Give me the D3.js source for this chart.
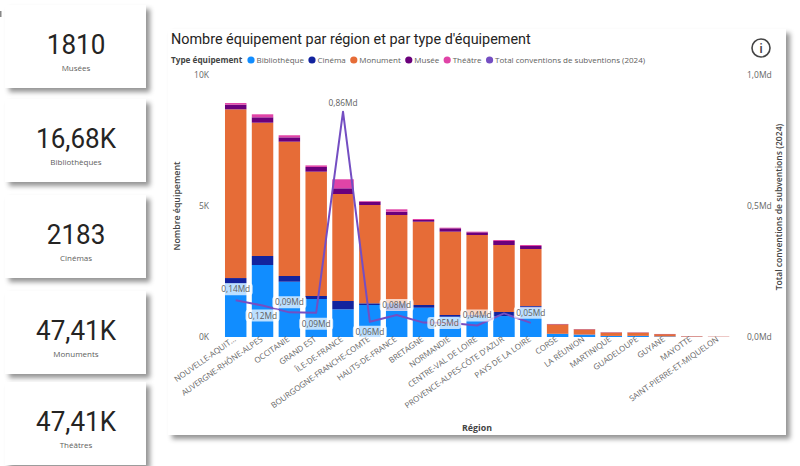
<!DOCTYPE html>
<html>
<head>
<meta charset="utf-8">
<script src="https://cdn.jsdelivr.net/npm/d3@7"></script>
<style>
html, body { margin: 0; padding: 0; background: #fff; overflow: hidden; }
svg { display: block; }
text { font-family: "Open Sans", sans-serif; }
.din { font-family: Roboto, sans-serif; }
.axis path, .axis line { display: none; }
.axis text { fill: #666; font-size: 8.5px; font-family: "Open Sans", sans-serif; }
</style>
</head>
<body>
<svg id="page" width="800" height="466"></svg>
<script>
var regions = ['NOUVELLE-AQUIT...', 'AUVERGNE-RHÔNE-ALPES', 'OCCITANIE', 'GRAND EST', 'ÎLE-DE-FRANCE',
    'BOURGOGNE-FRANCHE-COMTÉ', 'HAUTS-DE-FRANCE', 'BRETAGNE', 'NORMANDIE', 'CENTRE-VAL DE LOIRE',
    "PROVENCE-ALPES-CÔTE D'AZUR", 'PAYS DE LA LOIRE', 'CORSE', 'LA RÉUNION', 'MARTINIQUE',
    'GUADELOUPE', 'GUYANE', 'MAYOTTE', 'SAINT-PIERRE-ET-MIQUELON'];
var bibliotheque = [2050, 2748, 2110, 1450, 1057, 1221, 1000, 1118, 775, 780, 800, 1100, 115, 88, 38, 40, 20, 4, 1];
var cinema = [200, 344, 218, 115, 317, 65, 290, 103, 65, 70, 154, 83, 8, 7, 4, 4, 3, 1, 0];
var monument = [6440, 5088, 5127, 4745, 4084, 3752, 3366, 3179, 3180, 3043, 2557, 2176, 360, 196, 128, 123, 85, 20, 10];
var musee = [177, 205, 165, 180, 217, 126, 127, 66, 128, 103, 153, 114, 10, 8, 8, 7, 5, 3, 2];
var theatre = [63, 115, 80, 60, 345, 26, 91, 38, 24, 24, 38, 38, 5, 4, 4, 4, 3, 2, 1];
var conventions = [0.14, 0.12, 0.094, 0.093, 0.86, 0.058, 0.084, 0.055, 0.053, 0.044, 0.09, 0.054];
var lineLabels = ['0,14Md', '0,12Md', '0,09Md', '0,09Md', '0,86Md', '0,06Md', '0,08Md', null, '0,05Md', '0,04Md', null, '0,05Md'];
var yTicks = [0, 5000, 10000];
var yTickLabels = ['0K', '5K', '10K'];
var rightTicks = [0, 0.5, 1];
var rightTickLabels = ['0,0Md', '0,5Md', '1,0Md'];
var seriesNames = ['Bibliothèque', 'Cinéma', 'Monument', 'Musée', 'Théâtre'];
var lineName = 'Total conventions de subventions (2024)';
var kpiValues = ['1810', '16,68K', '2183', '47,41K', '47,41K'];
var kpiNames = ['Musées', 'Bibliothèques', 'Cinémas', 'Monuments', 'Théâtres'];

const COLORS = ['#118DFF', '#12239E', '#E66C37', '#6B007B', '#E044A7'];
const LINE_COLOR = '#744EC2';
const CARD_TOPS = [5, 99, 195, 291, 382];
// label offset from its point, one [dx, dy] per line label
const LABEL_OFFSETS = [[0, -11], [0, 10], [0, -10], [0, 11], [0, -9], [0, 10], [0, -10], null, [-6, 0], [0, -10], null, [0, -10]];

var svg = d3.select('#page');
var defs = svg.append('defs');
var shadow = defs.append('filter').attr('id', 'shadow')
    .attr('x', '-10%').attr('y', '-10%').attr('width', '125%').attr('height', '125%');
shadow.append('feDropShadow').attr('dx', 4).attr('dy', 4).attr('stdDeviation', 2.6)
    .attr('flood-color', '#000').attr('flood-opacity', 0.42);

var drawKpis = function () {
    // cut off element at the page edge
    svg.append('rect').attr('x', 0).attr('y', 11).attr('width', 1.5).attr('height', 6).attr('fill', '#888');
    var cards = svg.selectAll('.kpi').data(kpiValues).enter().append('g')
        .attr('class', 'kpi')
        .attr('transform', function (d, i) { return 'translate(5,' + CARD_TOPS[i] + ')'; });
    cards.append('rect').attr('width', 141).attr('height', 83).attr('fill', '#fff').attr('filter', 'url(#shadow)');
    cards.append('text').attr('class', 'din')
        .attr('transform', 'translate(71,48.5) scale(0.93,1)')
        .attr('text-anchor', 'middle').attr('font-size', 28).attr('fill', '#252423')
        .text(function (d) { return d; });
    cards.append('text').attr('x', 71).attr('y', 65.5)
        .attr('text-anchor', 'middle').attr('font-size', 8).attr('fill', '#605E5C')
        .text(function (d, i) { return kpiNames[i]; });
};

var drawLegend = function (g) {
    g.append('text').attr('x', 171).attr('y', 63).attr('font-size', 8.2).attr('font-weight', 700)
        .attr('fill', '#444').text('Type équipement');
    var names = seriesNames.concat([lineName]);
    var colors = COLORS.concat([LINE_COLOR]);
    var x = 251;
    names.forEach(function (name, i) {
        g.append('circle').attr('cx', x).attr('cy', 60).attr('r', 3.6).attr('fill', colors[i]);
        var label = g.append('text').attr('x', x + 5.5).attr('y', 63).attr('font-size', 8)
            .attr('fill', '#605E5C').text(name);
        x += 5.5 + label.node().getComputedTextLength() + 8;
    });
};

var drawChart = function () {
    var g = svg.append('g');
    g.append('rect').attr('x', 168).attr('y', 29).attr('width', 618).attr('height', 406)
        .attr('fill', '#fff').attr('filter', 'url(#shadow)');
    g.append('text').attr('class', 'din').attr('x', 171).attr('y', 44).attr('font-size', 14.4)
        .attr('fill', '#252423')
        .text("Nombre équipement par région et par type d'équipement");
    drawLegend(g);

    var xScale = d3.scaleBand().domain(regions).range([222.3, 732]).paddingInner(0.2).paddingOuter(0.1);
    var yScale = d3.scaleLinear().domain([0, 10000]).range([337, 75]);
    var rightScale = d3.scaleLinear().domain([0, 1]).range([337, 75]);

    var rows = regions.map(function (region, i) {
        return {region: region, 'Bibliothèque': bibliotheque[i], 'Cinéma': cinema[i],
            'Monument': monument[i], 'Musée': musee[i], 'Théâtre': theatre[i]};
    });
    var stacked = d3.stack().keys(seriesNames)(rows);

    g.append('g').selectAll('g').data(stacked).enter().append('g')
        .attr('fill', function (d, i) { return COLORS[i]; })
        .selectAll('rect').data(function (d) { return d; }).enter().append('rect')
        .attr('x', function (d) { return xScale(d.data.region); })
        .attr('y', function (d) { return yScale(d[1]); })
        .attr('width', xScale.bandwidth())
        .attr('height', function (d) { return yScale(d[0]) - yScale(d[1]); });

    g.append('g').attr('class', 'axis').attr('transform', 'translate(212,0)')
        .call(d3.axisLeft(yScale).tickValues(yTicks).tickSize(0).tickPadding(3)
            .tickFormat(function (d, i) { return yTickLabels[i]; }));
    g.append('g').attr('class', 'axis').attr('transform', 'translate(744,0)')
        .call(d3.axisRight(rightScale).tickValues(rightTicks).tickSize(0).tickPadding(3)
            .tickFormat(function (d, i) { return rightTickLabels[i]; }));

    var bottomAxis = g.append('g').attr('class', 'axis').attr('transform', 'translate(0,338)')
        .call(d3.axisBottom(xScale).tickSize(0).tickPadding(0));
    bottomAxis.selectAll('text')
        .attr('text-anchor', 'end').style('font-size', '8px')
        .attr('y', 3).attr('dy', 0)
        .attr('transform', 'translate(-1,0) rotate(-35)');

    var centre = function (i) { return xScale(regions[i]) + xScale.bandwidth() / 2; };
    var line = d3.line()
        .x(function (d, i) { return centre(i); })
        .y(function (d) { return rightScale(d); });
    g.append('path').datum(conventions).attr('d', line)
        .attr('fill', 'none').attr('stroke', LINE_COLOR).attr('stroke-width', 2).attr('stroke-linejoin', 'round');

    lineLabels.forEach(function (label, i) {
        if (!label) return;
        var cx = centre(i) + LABEL_OFFSETS[i][0];
        var cy = rightScale(conventions[i]) + LABEL_OFFSETS[i][1];
        if (i != 4) {
            g.append('rect').attr('x', cx - 17).attr('y', cy - 6).attr('width', 34).attr('height', 12).attr('rx', 3)
                .attr('fill', '#fff').attr('fill-opacity', 0.72);
        }
        g.append('text').attr('x', cx).attr('y', cy + 3).attr('text-anchor', 'middle')
            .attr('font-size', 8.3).attr('fill', '#605E5C').text(label);
    });

    g.append('text').attr('transform', 'translate(180,206) rotate(-90)').attr('text-anchor', 'middle')
        .attr('font-size', 8.8).attr('font-weight', 600).attr('fill', '#444').text('Nombre équipement');
    g.append('text').attr('transform', 'translate(782,207) rotate(-90)').attr('text-anchor', 'middle')
        .attr('font-size', 8.6).attr('font-weight', 600).attr('fill', '#444').text(lineName);
    g.append('text').attr('x', 477).attr('y', 431).attr('text-anchor', 'middle')
        .attr('font-size', 8.8).attr('font-weight', 700).attr('fill', '#444').text('Région');

    g.append('circle').attr('cx', 761).attr('cy', 48).attr('r', 9)
        .attr('fill', 'none').attr('stroke', '#444').attr('stroke-width', 1.6);
    g.append('text').attr('x', 761).attr('y', 53).attr('text-anchor', 'middle')
        .attr('font-size', 13).attr('font-weight', 600).attr('fill', '#444').text('i');
};

drawKpis();
drawChart();
</script>
</body>
</html>
